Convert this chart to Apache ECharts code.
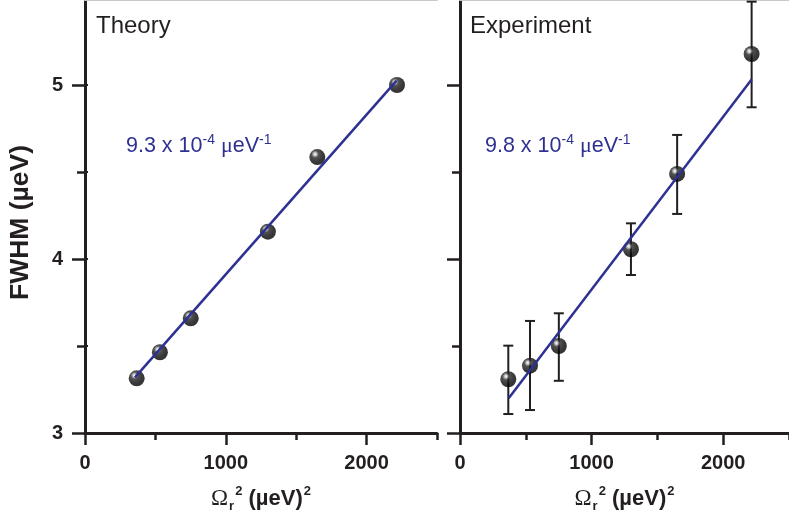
<!DOCTYPE html>
<html>
<head>
<meta charset="utf-8">
<script src="https://cdn.jsdelivr.net/npm/echarts@6/dist/echarts.min.js"></script>
<style>html,body{margin:0;padding:0;background:#fff}#c{width:789px;height:520px}</style>
</head>
<body>
<div id="c"></div>
<script>
// ---- data ----
const xValues = [367, 532, 751, 1299, 1650, 2216];
const theoryY = [3.314, 3.464, 3.659, 4.157, 4.586, 5.0];
const expY = [3.309, 3.387, 3.50, 4.056, 4.489, 5.178];
const expLow = [3.109, 3.132, 3.30, 3.908, 4.259, 4.872];
const expHigh = [3.502, 3.644, 3.688, 4.205, 4.713, 5.479];
const theoryFitX = [355, 2213];
const theoryFitY = [3.32, 5.025];
const expFitX = [370, 2217];
const expFitY = [3.20, 5.033];
const xMajorTicks = [0, 1000, 2000];
const xMinorTicks = [500, 1500, 2500];
const yMajorTicks = [3, 4, 5];
const yMinorTicks = [3.5, 4.5];
const panelTitles = ['Theory', 'Experiment'];
const slopeTexts = ['9.3', '9.8'];

const INK = '#231f20';
const BLUE = '#2e3192';
const FONT = '"Liberation Sans", Arial, sans-serif';

const sphere = {
  type: 'radial', x: 0.36, y: 0.32, r: 0.7,
  colorStops: [
    { offset: 0, color: '#ffffff' },
    { offset: 0.12, color: '#c4c4c4' },
    { offset: 0.32, color: '#262626' },
    { offset: 0.7, color: '#080808' },
    { offset: 1, color: '#000000' }
  ]
};

const xName = '{om|Ω}{sub|r}{sup|2}{b| (µeV)}{sup|2}';
const xNameStyle = {
  rich: {
    om: { fontFamily: '"Liberation Serif", serif', fontSize: 23, color: INK, lineHeight: 28 },
    sub: { fontFamily: FONT, fontWeight: 'bold', fontSize: 13, color: INK, verticalAlign: 'bottom', lineHeight: 12, padding: [0, 0, 0, 1] },
    sup: { fontFamily: FONT, fontWeight: 'bold', fontSize: 13, color: INK, verticalAlign: 'top', lineHeight: 13, padding: [0, 0, 0, 1] },
    b: { fontFamily: FONT, fontWeight: 'bold', fontSize: 22, color: INK, lineHeight: 28 }
  }
};

const plain = v => String(v);

function mainX(grid, withLabel) {
  return {
    type: 'value', gridIndex: grid, position: 'bottom', min: 0, max: 2500,
    name: xName, nameLocation: 'middle', nameGap: 52, nameTextStyle: xNameStyle,
    axisLine: { show: true, lineStyle: { color: INK, width: 3 } },
    axisTick: { show: true, inside: false, length: 12, customValues: xMajorTicks, lineStyle: { color: INK, width: 2.5 } },
    axisLabel: { show: withLabel, customValues: xMajorTicks, formatter: plain, margin: 20, color: INK, fontSize: 20, fontWeight: 'bold', fontFamily: FONT },
    splitLine: { show: false }
  };
}
function minorX(grid) {
  return {
    type: 'value', gridIndex: grid, position: 'bottom', min: 0, max: 2500,
    axisLine: { show: false },
    axisTick: { show: true, inside: false, length: 7, customValues: xMinorTicks, lineStyle: { color: INK, width: 2.5 } },
    axisLabel: { show: false },
    splitLine: { show: false }
  };
}
function topX(grid) {
  return {
    type: 'value', gridIndex: grid, position: 'top', min: 0, max: 2500,
    axisLine: { show: true, lineStyle: { color: '#c8c8c8', width: 2 } },
    axisTick: { show: false }, axisLabel: { show: false }, splitLine: { show: false }
  };
}
function mainY(grid, withLabel) {
  const o = {
    type: 'value', gridIndex: grid, position: 'left', min: 3, max: 5.4885,
    axisLine: { show: true, lineStyle: { color: INK, width: 3 } },
    axisTick: { show: true, inside: false, length: 13, customValues: yMajorTicks, lineStyle: { color: INK, width: 2.5 } },
    axisLabel: { show: withLabel, customValues: yMajorTicks, formatter: plain, margin: 22, color: INK, fontSize: 20, fontWeight: 'bold', fontFamily: FONT },
    splitLine: { show: false }
  };
  if (withLabel) {
    o.name = 'FWHM (µeV)';
    o.nameLocation = 'middle';
    o.nameGap = 51;
    o.nameTextStyle = { color: INK, fontSize: 26.5, fontWeight: 'bold', fontFamily: FONT, padding: [0, 12, 0, 0] };
  }
  return o;
}
function minorY(grid) {
  return {
    type: 'value', gridIndex: grid, position: 'left', min: 3, max: 5.4885,
    axisLine: { show: false },
    axisTick: { show: true, inside: false, length: 8, customValues: yMinorTicks, lineStyle: { color: INK, width: 2.5 } },
    axisLabel: { show: false }, splitLine: { show: false }
  };
}
function rightY(grid) {
  return {
    type: 'value', gridIndex: grid, position: 'right', min: 3, max: 5.4885,
    axisLine: { show: true, lineStyle: { color: INK, width: 3 } },
    axisTick: { show: true, inside: false, length: 3, customValues: yMajorTicks.concat(yMinorTicks), lineStyle: { color: INK, width: 2 } },
    axisLabel: { show: false }, splitLine: { show: false }
  };
}

function zip(a, b) { return a.map((v, i) => [v, b[i]]); }

function errorBars(xi, yi) {
  return {
    type: 'custom', xAxisIndex: xi, yAxisIndex: yi, z: 2,
    data: xValues.map((x, i) => [x, expLow[i], expHigh[i]]),
    renderItem: function (params, api) {
      const x = api.value(0);
      const pLo = api.coord([x, api.value(1)]);
      const pHi = api.coord([x, api.value(2)]);
      const w = 5;
      const st = { stroke: INK, lineWidth: 2 };
      return {
        type: 'group',
        children: [
          { type: 'line', shape: { x1: pLo[0], y1: pLo[1], x2: pHi[0], y2: pHi[1] }, style: st },
          { type: 'line', shape: { x1: pLo[0] - w, y1: pLo[1], x2: pLo[0] + w, y2: pLo[1] }, style: st },
          { type: 'line', shape: { x1: pHi[0] - w, y1: pHi[1], x2: pHi[0] + w, y2: pHi[1] }, style: st }
        ]
      };
    }
  };
}

function scatter(xi, yi, ys) {
  return {
    type: 'scatter', xAxisIndex: xi, yAxisIndex: yi, z: 3,
    symbol: 'circle', symbolSize: 16,
    itemStyle: { color: sphere, borderWidth: 0 },
    data: zip(xValues, ys)
  };
}
function fit(xi, yi, fx, fy) {
  return {
    type: 'line', xAxisIndex: xi, yAxisIndex: yi, z: 4,
    symbol: 'none', lineStyle: { color: BLUE, width: 2.5 },
    data: zip(fx, fy)
  };
}

function slopeLabel(left, val) {
  return {
    type: 'text', left: left, top: 133, z: 10,
    style: {
      text: val + ' x 10{sup|-4} {mu|μ}eV{sup|-1}',
      fill: BLUE, fontSize: 21.5, fontFamily: FONT,
      rich: {
        sup: { fill: BLUE, fontSize: 14, fontFamily: FONT, verticalAlign: 'top', lineHeight: 13 },
        mu: { fill: BLUE, fontSize: 22, fontFamily: '"Liberation Serif", serif', lineHeight: 26 }
      }
    }
  };
}

const chart = echarts.init(document.getElementById('c'), null, { renderer: 'canvas' });
chart.setOption({
  animation: false,
  backgroundColor: '#ffffff',
  grid: [
    { left: 85, top: 0, width: 352, height: 433 },
    { left: 460, top: 0, width: 337.5, height: 433 }
  ],
  xAxis: [
    mainX(0, true), minorX(0), topX(0),
    mainX(1, true), minorX(1), topX(1)
  ],
  yAxis: [
    mainY(0, true), minorY(0), rightY(0),
    mainY(1, false), minorY(1)
  ],
  series: [
    scatter(0, 0, theoryY),
    fit(0, 0, theoryFitX, theoryFitY),
    errorBars(3, 3),
    scatter(3, 3, expY),
    fit(3, 3, expFitX, expFitY)
  ],
  graphic: [
    { type: 'text', left: 96, top: 14, style: { text: panelTitles[0], fill: INK, fontSize: 24, fontFamily: FONT } },
    { type: 'text', left: 470, top: 14, style: { text: panelTitles[1], fill: INK, fontSize: 24, fontFamily: FONT } },
    slopeLabel(126, slopeTexts[0]),
    slopeLabel(485, slopeTexts[1])
  ]
});
</script>
</body>
</html>
